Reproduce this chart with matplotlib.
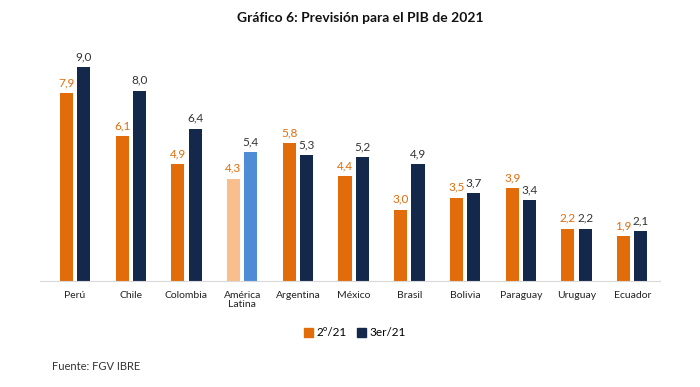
import matplotlib.pyplot as plt
import numpy as np
from matplotlib.patches import Patch

plt.rcParams['font.family'] = ['Lato', 'DejaVu Sans']

paises = ['Perú', 'Chile', 'Colombia', 'América\nLatina', 'Argentina', 'México',
          'Brasil', 'Bolivia', 'Paraguay', 'Uruguay', 'Ecuador']
t2_21 = [7.9, 6.1, 4.9, 4.3, 5.8, 4.4, 3.0, 3.5, 3.9, 2.2, 1.9]
t3_21 = [9.0, 8.0, 6.4, 5.4, 5.3, 5.2, 4.9, 3.7, 3.4, 2.2, 2.1]

naranja = '#E36C0A'
navy = '#14284B'
naranja_claro = '#F8BE8C'
azul = '#4F8CD6'

# ejes: baseline en y=281, x de 40 a 660 px
fig = plt.figure(figsize=(7, 3.87), dpi=100)
ax = fig.add_axes([0.057, 0.274, 0.886, 0.615])

x = np.arange(len(paises))
w = 0.235
d = 0.155
c1 = [naranja] * len(paises)
c2 = [navy] * len(paises)
c1[3] = naranja_claro
c2[3] = azul
ax.bar(x - d, t2_21, w, color=c1)
ax.bar(x + d, t3_21, w, color=c2)

for i in range(len(paises)):
    ax.text(x[i] - d, t2_21[i] + 0.2, ('%.1f' % t2_21[i]).replace('.', ','),
            ha='center', va='bottom', fontsize=8.5, color=naranja)
    ax.text(x[i] + d, t3_21[i] + 0.2, ('%.1f' % t3_21[i]).replace('.', ','),
            ha='center', va='bottom', fontsize=8.5, color='#333333')

ax.set_xlim(-0.63, 10.5)
ax.set_ylim(0, 10)
ax.set_xticks(x)
ax.set_xticklabels(paises, fontsize=7.5, color='#222222', linespacing=1.1)
ax.tick_params(axis='x', length=0, pad=7)
ax.set_yticks([])
for s in ['top', 'right', 'left']:
    ax.spines[s].set_visible(False)
ax.spines['bottom'].set_color('#D9D9D9')

fig.text(0.514, 0.953, 'Gráfico 6: Previsión para el PIB de 2021', ha='center', va='center',
         fontsize=10, fontweight='bold', color='#111111')

handles = [Patch(color=naranja, label='2º/21'), Patch(color=navy, label='3er/21')]
fig.legend(handles=handles, loc='center', bbox_to_anchor=(0.507, 0.14), ncol=2, frameon=False,
           fontsize=8.5, handlelength=0.8, handleheight=0.8, handletextpad=0.3, columnspacing=0.8)

fig.text(0.074, 0.054, 'Fuente: FGV IBRE', ha='left', va='center', fontsize=8, color='#333333')

plt.savefig('out.png', dpi=100)
